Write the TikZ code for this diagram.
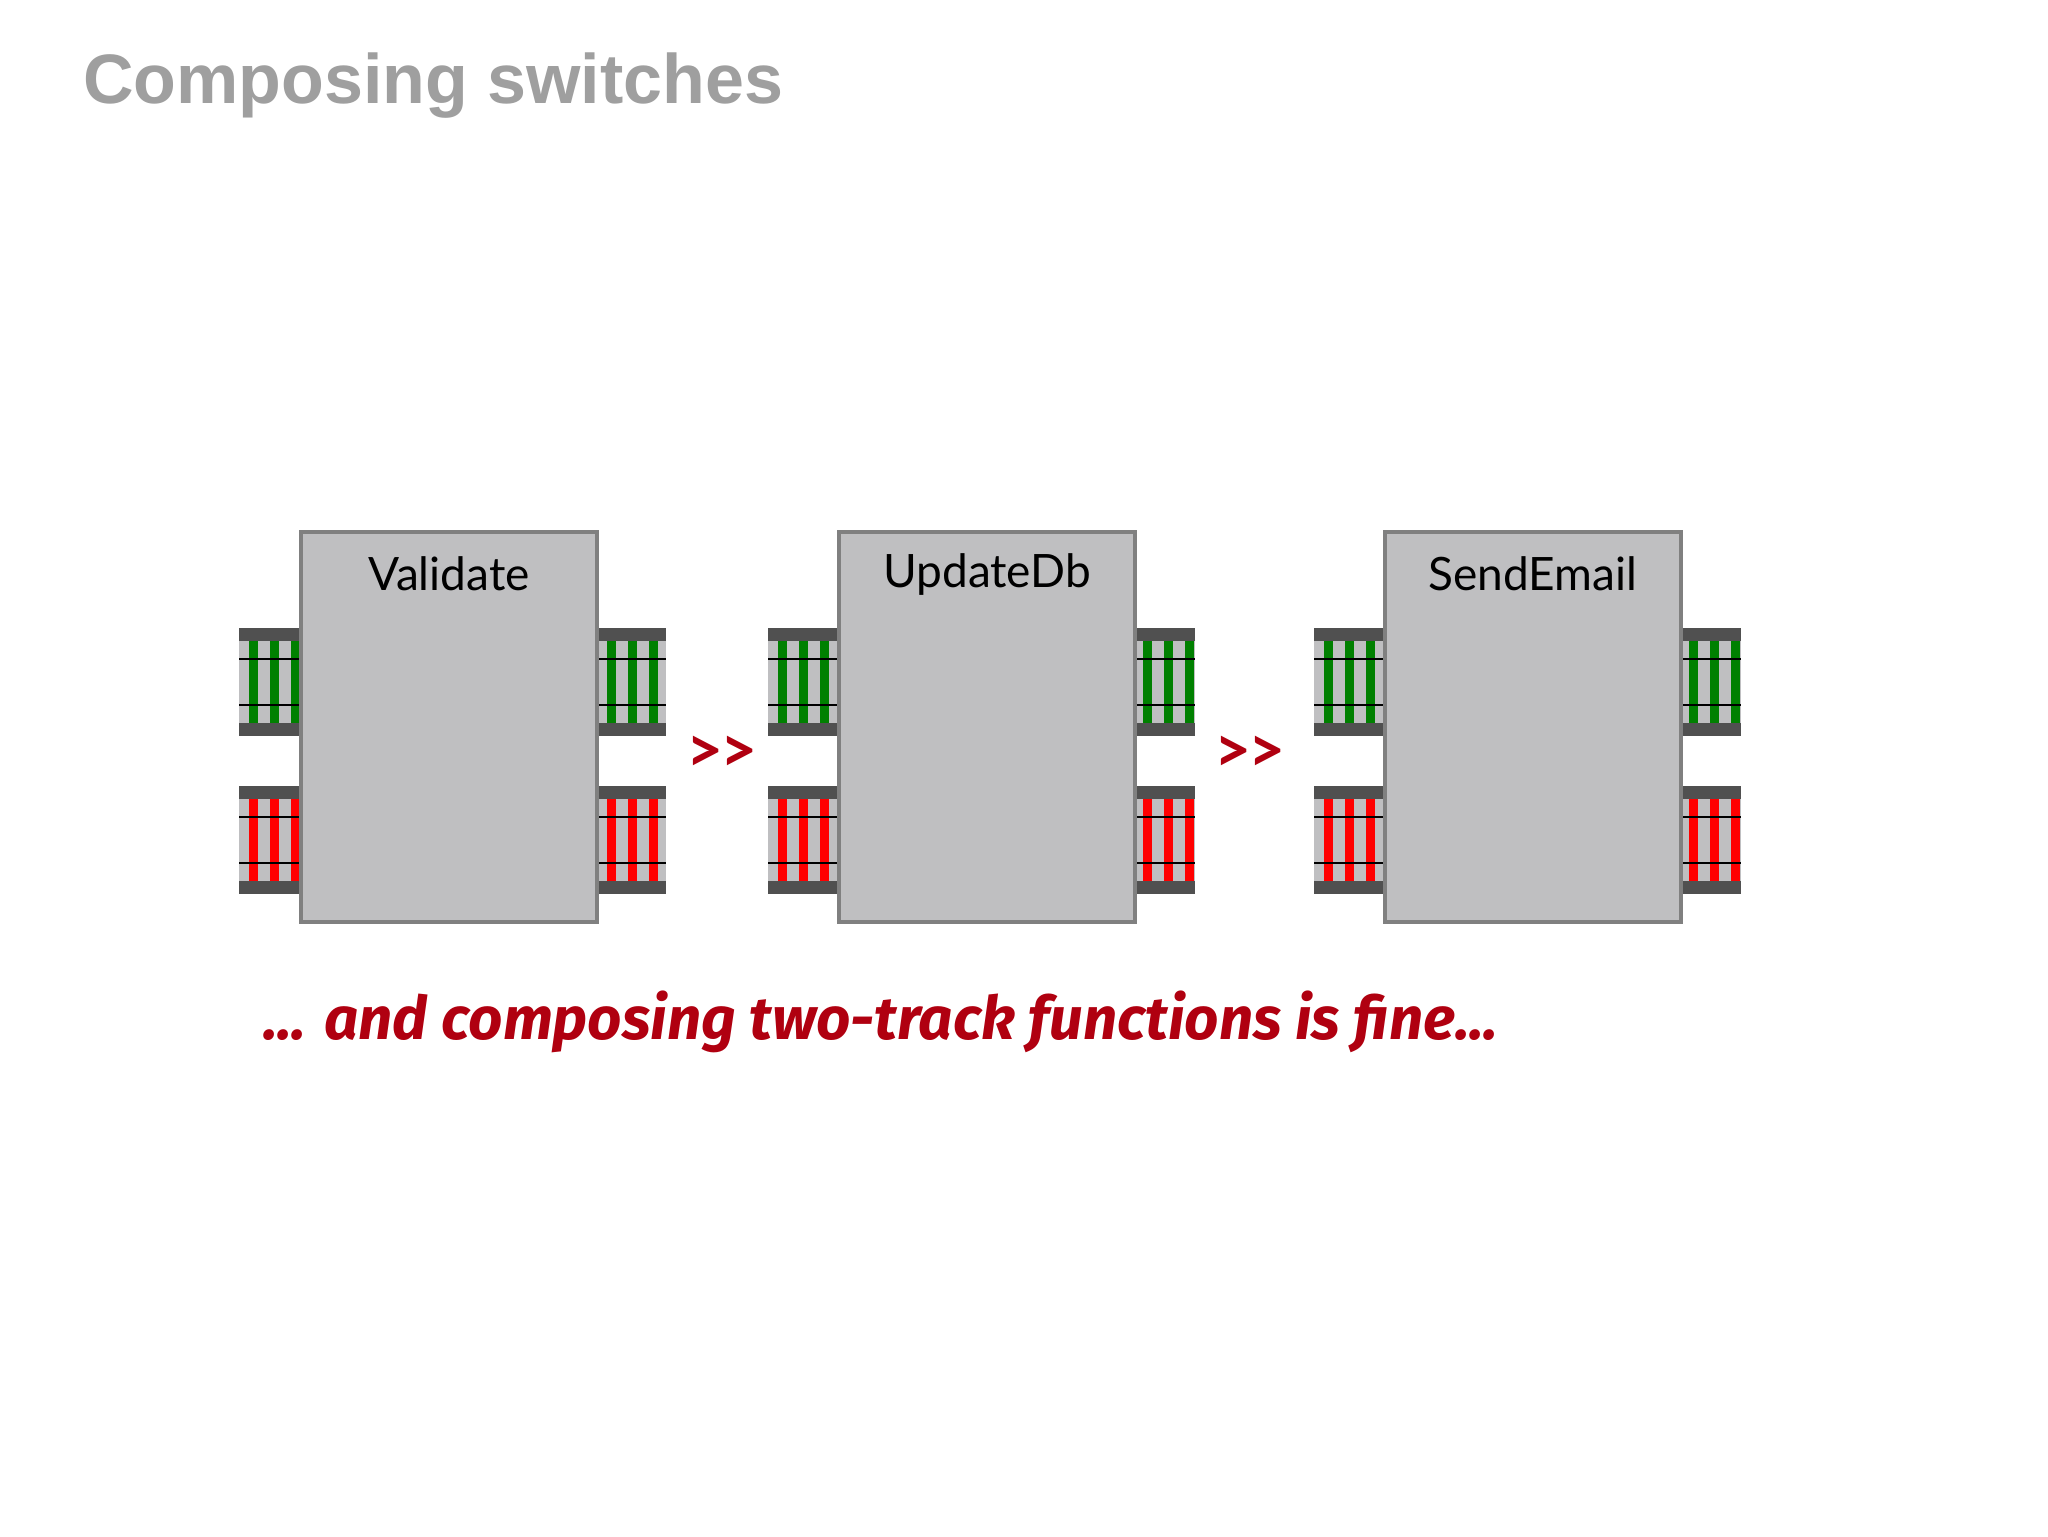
\documentclass[tikz,border=0pt]{standalone}
\usepackage{fontspec}
\setmainfont{Lato}
\newfontfamily\titlefont{Liberation Sans}
\newfontfamily\handfont{Fira Sans}
\definecolor{tiegreen}{HTML}{008000}
\definecolor{tiered}{HTML}{FF0000}
\definecolor{boxgray}{HTML}{BFBFC1}
\definecolor{boxedge}{HTML}{808080}
\definecolor{darkband}{HTML}{505050}
\definecolor{hand}{HTML}{B00010}
\newcommand{\railtrack}[4]{% x1 x2 ytop color
  \fill[boxgray] (#1,#3) rectangle (#2,#3+108);
  \begin{scope}
    \clip (#1,#3) rectangle (#2,#3+108);
    \foreach \i in {0,...,4}{\fill[#4] (#1+10+\i*21,#3) rectangle ++(9,108);}
  \end{scope}
  \fill[darkband] (#1,#3) rectangle (#2,#3+13);
  \fill[darkband] (#1,#3+95) rectangle (#2,#3+108);
  \draw[black,line width=1pt] (#1,#3+31) -- (#2,#3+31);
  \draw[black,line width=1pt] (#1,#3+77) -- (#2,#3+77);
}
\tikzset{fn/.style={draw=boxedge,fill=boxgray,line width=2pt,minimum width=148pt,minimum height=195pt,anchor=north west,inner sep=0},
 lbl/.style={font=\fontsize{23}{27}\selectfont},
 op/.style={text=hand,font=\bfseries\fontsize{32}{36}\selectfont}}
\begin{document}
\begin{tikzpicture}[x=0.5pt,y=-0.5pt]
\useasboundingbox (0,0) rectangle (2048,1536);
\fill[white] (0,0) rectangle (2048,1536);
\node[anchor=west,text=gray!75,font=\titlefont\bfseries\fontsize{35}{40}\selectfont] (title) at (76,86) {Composing switches};
% tracks
\foreach \a/\b in {239/300,597/666,768/838,1133/1195,1314/1384,1679/1741}{
  \railtrack{\a}{\b}{628}{tiegreen}
  \railtrack{\a}{\b}{786}{tiered}
}
\node[fn] (v) at (299,530) {};
\node[fn] (u) at (837,530) {};
\node[fn] (s) at (1383,530) {};
\node[lbl] (vl) at ([yshift=-22]v.north) {Validate};
\node[lbl] (ul) at ([yshift=-22]u.north) {UpdateDb};
\node[lbl] (sl) at ([yshift=-22]s.north) {SendEmail};
\node[op] (o1) at (722,754) {{>}\kern-2pt{>}};
\node[op] (o2) at (1250,754) {{>}\kern-2pt{>}};
\node[anchor=west,text=hand,font=\handfont\itshape\bfseries\fontsize{30}{36}\selectfont] (cap) at (256,1022) {... and composing two-track functions is fine...};
\end{tikzpicture}
\end{document}
